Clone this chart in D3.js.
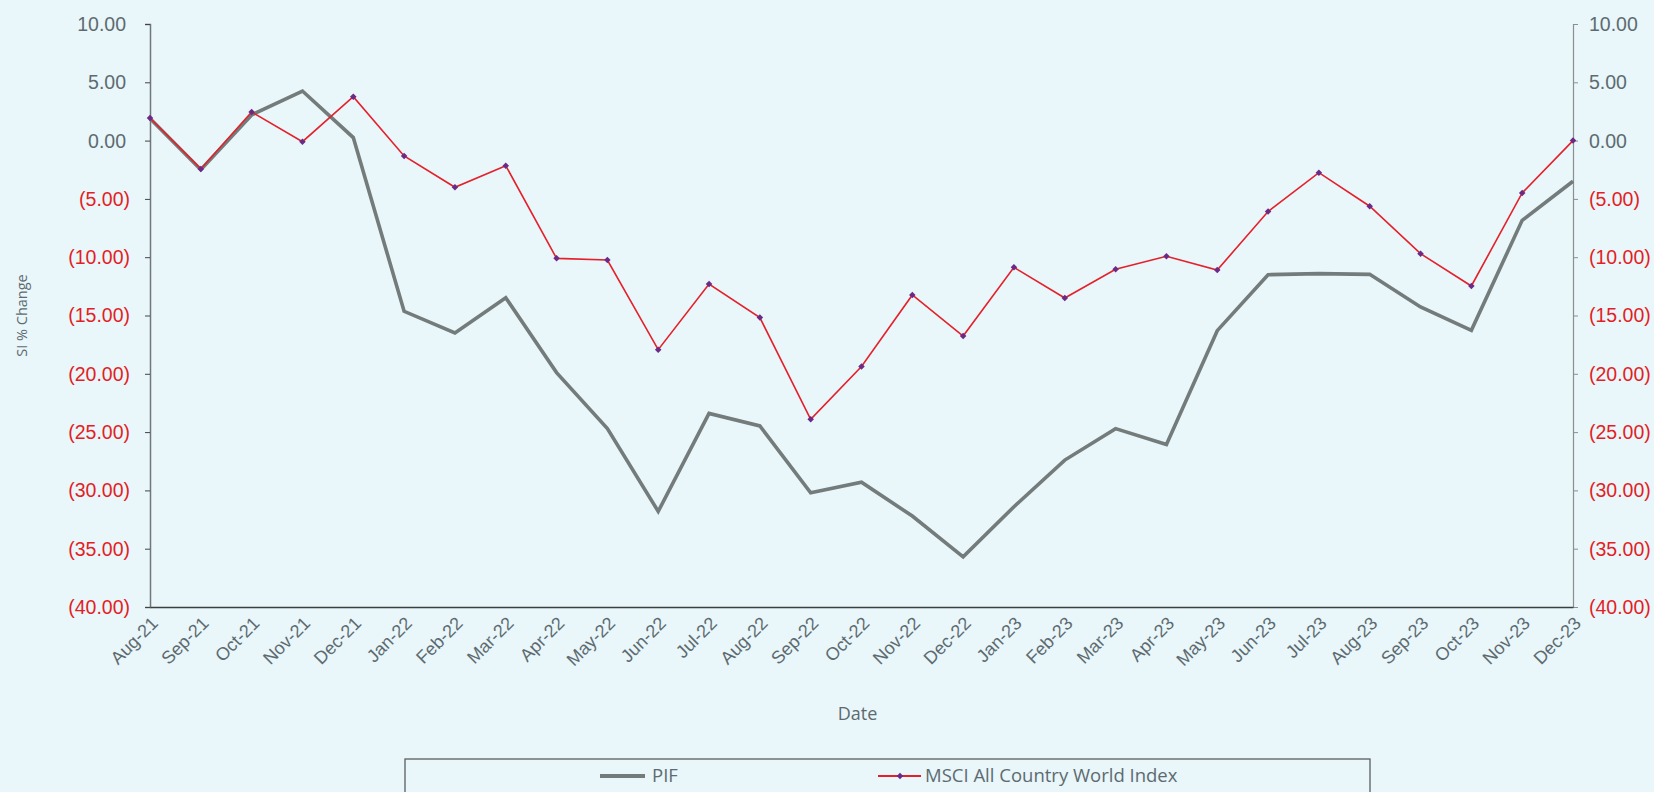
<!DOCTYPE html>
<html>
<head>
<meta charset="utf-8">
<script src="https://cdn.jsdelivr.net/npm/d3@7"></script>
<style>
  html, body { margin: 0; padding: 0; background: #e9f6fa; }
  svg { display: block; font-family: "Open Sans", "Noto Sans", sans-serif; }
</style>
</head>
<body>
<svg id="chart" width="1654" height="792"></svg>
<script>
// Monthly since-inception % change
const months = ["Aug-21","Sep-21","Oct-21","Nov-21","Dec-21","Jan-22","Feb-22","Mar-22","Apr-22","May-22","Jun-22","Jul-22","Aug-22","Sep-22","Oct-22","Nov-22","Dec-22","Jan-23","Feb-23","Mar-23","Apr-23","May-23","Jun-23","Jul-23","Aug-23","Sep-23","Oct-23","Nov-23","Dec-23"];
const pif  = [1.9, -2.5, 2.2, 4.25, 0.26, -14.64, -16.5, -13.47, -19.9, -24.7, -31.8, -23.4, -24.47, -30.2, -29.3, -32.2, -35.7, -31.4, -27.4, -24.7, -26.07, -16.3, -11.5, -11.41, -11.47, -14.27, -16.27, -6.84, -3.49];
const msci = [1.94, -2.43, 2.45, -0.09, 3.77, -1.32, -4.0, -2.15, -10.1, -10.24, -17.93, -12.3, -15.18, -23.9, -19.38, -13.24, -16.76, -10.87, -13.5, -11.04, -9.92, -11.1, -6.08, -2.75, -5.63, -9.7, -12.47, -4.49, 0.0];
const yTicks = [10, 5, 0, -5, -10, -15, -20, -25, -30, -35, -40];
const seriesNames = ["PIF", "MSCI All Country World Index"];

const svg = d3.select("#chart");
const plotL = 150, plotR = 1573, plotT = 24, plotB = 607;

const x = d3.scalePoint().domain(months).range([plotL, plotR]);
const y = d3.scaleLinear().domain([-40, 10]).range([plotB, plotT]);

const fmt = v => v < 0 ? "(" + d3.format(".2f")(-v) + ")" : d3.format(".2f")(v);
const grey = "#5d6b70", red = "#e31e24";

// left axis
const gl = svg.append("g").attr("transform", `translate(${plotL},0)`)
  .call(d3.axisLeft(y).tickValues(yTicks).tickSize(5).tickPadding(0).tickFormat(fmt));
gl.select(".domain").attr("stroke", "#6f7777").attr("stroke-width", 1.5);
gl.selectAll(".tick line").attr("stroke", "#444").attr("stroke-width", 1);
gl.selectAll(".tick text")
  .attr("font-size", 19.5)
  .attr("fill", d => d < 0 ? red : grey)
  .attr("x", d => d < 0 ? -20 : -24)
  .attr("dy", "0.33em");

// right axis
const gr = svg.append("g").attr("transform", `translate(${plotR},0)`)
  .call(d3.axisRight(y).tickValues(yTicks).tickSize(5).tickPadding(0).tickFormat(fmt));
gr.select(".domain").attr("stroke", "#8a9090").attr("stroke-width", 1.2);
gr.selectAll(".tick line").attr("stroke", "#8a9090");
gr.selectAll(".tick text")
  .attr("font-size", 19.5)
  .attr("fill", d => d < 0 ? red : grey)
  .attr("x", 16)
  .attr("dy", "0.33em");

// bottom axis
const gb = svg.append("g").attr("transform", `translate(0,${plotB})`)
  .call(d3.axisBottom(x).tickSize(0).tickPadding(0));
gb.select(".domain").attr("stroke", "#3a3f40").attr("stroke-width", 1.6);
gb.selectAll(".tick text")
  .attr("font-size", 18)
  .attr("fill", grey)
  .attr("text-anchor", "end")
  .attr("transform", "translate(4,13) rotate(-45)")
  .attr("dy", "0.35em")
  .attr("y", 0);

// axis titles
svg.append("text")
  .attr("transform", `translate(27,${(plotT + plotB) / 2}) rotate(-90)`)
  .attr("text-anchor", "middle")
  .attr("font-size", 14.5)
  .attr("fill", grey)
  .text("SI % Change");
svg.append("text")
  .attr("x", (plotL + plotR) / 2 - 4).attr("y", 720)
  .attr("text-anchor", "middle")
  .attr("font-size", 18)
  .attr("fill", grey)
  .text("Date");

// series lines
const line = d3.line().x((d, i) => x(months[i])).y(d => y(d));
svg.append("path").datum(pif)
  .attr("fill", "none").attr("stroke", "#737b7b").attr("stroke-width", 3.6)
  .attr("stroke-linejoin", "miter").attr("d", line);
svg.append("path").datum(msci)
  .attr("fill", "none").attr("stroke", "#e4202a").attr("stroke-width", 1.6)
  .attr("d", line);
svg.append("g").selectAll("rect").data(msci).join("rect")
  .attr("x", (d, i) => x(months[i]) - 2.3).attr("y", d => y(d) - 2.3)
  .attr("width", 4.6).attr("height", 4.6)
  .attr("transform", (d, i) => `rotate(45,${x(months[i])},${y(d)})`)
  .attr("fill", "#6b2a86");

// legend
const lg = svg.append("g");
lg.append("rect").attr("x", 405).attr("y", 759).attr("width", 965).attr("height", 60)
  .attr("fill", "none").attr("stroke", "#5a5f60").attr("stroke-width", 1.3);
lg.append("line").attr("x1", 600).attr("x2", 645).attr("y1", 776).attr("y2", 776)
  .attr("stroke", "#737b7b").attr("stroke-width", 4);
lg.append("text").attr("x", 652).attr("y", 776).attr("dy", "0.35em")
  .attr("font-size", 18.5).attr("fill", grey).text(seriesNames[0]);
lg.append("line").attr("x1", 878).attr("x2", 921).attr("y1", 776).attr("y2", 776)
  .attr("stroke", "#e4202a").attr("stroke-width", 1.8);
lg.append("rect").attr("x", 897.7).attr("y", 773.7).attr("width", 4.6).attr("height", 4.6)
  .attr("transform", "rotate(45,900,776)").attr("fill", "#6b2a86");
lg.append("text").attr("x", 925).attr("y", 776).attr("dy", "0.35em")
  .attr("font-size", 18.5).attr("fill", grey).text(seriesNames[1]);
</script>
</body>
</html>
